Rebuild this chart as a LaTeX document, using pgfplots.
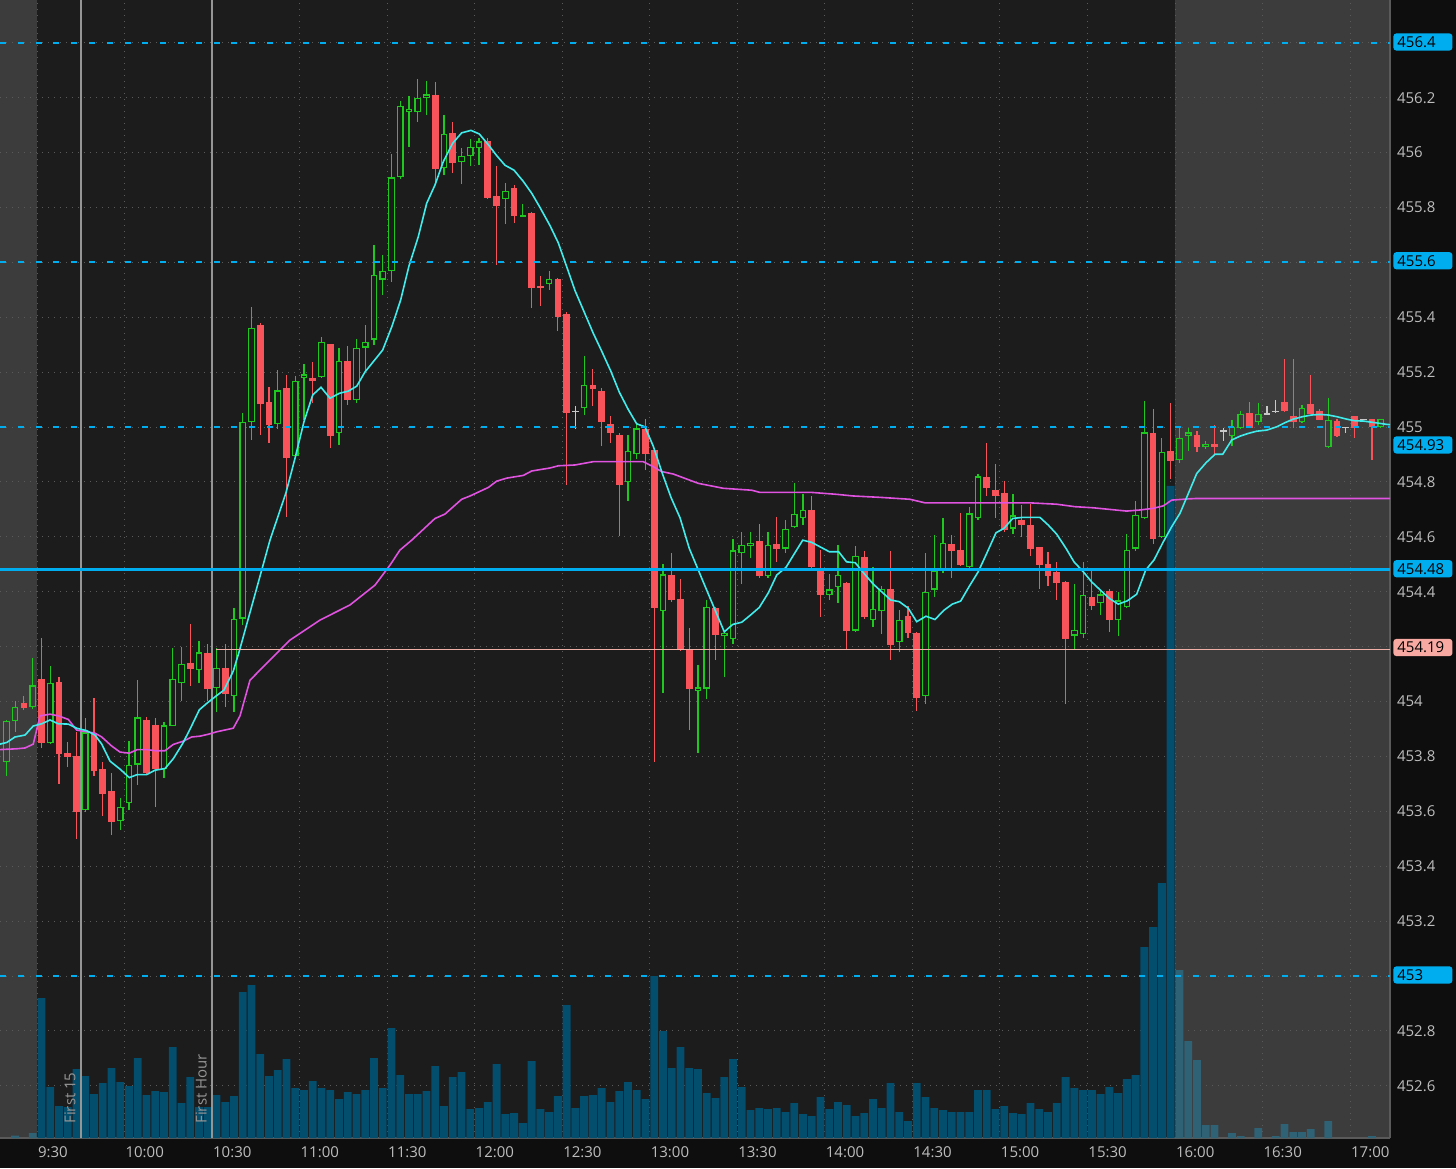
\documentclass[border=0pt]{standalone}
\usepackage{pgfplots}
\pgfplotsset{compat=1.18}
\usepackage{pgfplotstable}
\usepackage{fontspec}
\setmainfont{Open Sans}
\definecolor{pagebg}{HTML}{0E0E0E}
\definecolor{plotbg}{HTML}{1C1C1C}
\definecolor{sess}{HTML}{3C3C3C}
\definecolor{gridc}{HTML}{5A5A5A}
\definecolor{upc}{HTML}{1EC81E}
\definecolor{dnc}{HTML}{F8525A}
\definecolor{dojic}{HTML}{C8C8C8}
\definecolor{emac}{HTML}{40ECEC}
\definecolor{vwapc}{HTML}{E052E0}
\definecolor{lvl}{HTML}{00AEEF}
\definecolor{pinkl}{HTML}{F0B0A8}
\definecolor{pinkbox}{HTML}{F7A9A2}
\definecolor{volc}{HTML}{034D6D}
\definecolor{volg}{HTML}{2E6274}
\definecolor{markc}{HTML}{959595}
\definecolor{labc}{HTML}{BDBDBD}

\pgfplotstableread{
i o h l c
-2 453.995 454.020 453.969 453.978
0 454.082 454.231 453.831 453.849
2 454.071 454.089 453.701 453.809
3 453.812 453.852 453.761 453.798
4 453.801 453.889 453.499 453.597
6 453.883 454.013 453.729 453.747
7 453.754 453.780 453.583 453.663
8 453.674 453.740 453.514 453.561
12 453.933 453.947 453.737 453.740
13 453.916 453.940 453.619 453.754
17 454.140 454.284 454.056 454.118
19 454.178 454.209 454.002 454.049
21 454.124 454.209 453.980 454.029
25 455.372 455.380 454.971 455.084
26 455.092 455.147 454.942 455.007
28 455.142 455.189 454.673 454.888
31 455.182 455.238 455.089 455.169
33 455.302 455.305 454.923 454.968
35 455.240 455.296 455.080 455.098
45 456.212 456.258 455.894 455.939
47 456.072 456.110 455.924 455.963
51 456.042 456.053 455.832 455.836
52 455.842 455.952 455.592 455.805
54 455.871 455.884 455.745 455.769
56 455.781 455.785 455.434 455.509
57 455.514 455.550 455.442 455.506
59 455.541 455.545 455.352 455.400
60 455.414 455.418 454.788 455.051
63 455.154 455.210 455.078 455.138
64 455.131 455.142 454.933 455.020
65 455.012 455.040 454.942 454.980
66 454.974 454.978 454.603 454.791
69 454.993 455.031 454.843 454.902
70 454.917 454.920 453.779 454.341
72 454.461 454.541 454.362 454.370
73 454.376 454.449 454.187 454.190
74 454.190 454.270 453.899 454.048
77 454.342 454.345 454.154 454.242
82 454.587 454.649 454.451 454.457
84 454.573 454.671 454.509 454.558
88 454.700 454.749 454.486 454.489
89 454.485 454.552 454.309 454.388
92 454.433 454.436 454.194 454.258
94 454.528 454.549 454.303 454.309
97 454.412 454.549 454.151 454.208
99 454.311 454.350 454.230 454.251
100 454.252 454.255 453.969 454.015
104 454.573 454.609 454.451 454.548
105 454.552 454.689 454.494 454.497
108 454.821 454.944 454.750 454.779
109 454.773 454.868 454.671 454.749
110 454.762 454.803 454.619 454.625
112 454.664 454.716 454.600 454.643
113 454.643 454.722 454.531 454.558
114 454.562 454.565 454.410 454.497
115 454.503 454.546 454.421 454.458
116 454.473 454.509 454.370 454.434
117 454.436 454.440 453.991 454.228
120 454.382 454.489 454.333 454.348
122 454.403 454.410 454.254 454.299
127 454.981 455.068 454.574 454.592
129 454.913 455.090 454.813 454.877
132 454.971 454.989 454.910 454.928
134 454.941 455.010 454.898 454.928
138 455.052 455.090 454.996 454.999
142 455.092 455.250 455.055 455.058
143 455.041 455.250 454.999 455.019
145 455.083 455.189 455.048 455.050
146 455.059 455.068 455.026 455.028
148 455.022 455.029 454.965 454.967
150 455.040 455.042 454.961 454.999
152 455.029 455.031 454.880 454.999
}\redT

\pgfplotstableread{
i o h l c
1 453.849 454.129 453.845 454.069
5 453.605 453.942 453.600 453.889
9 453.565 453.648 453.532 453.616
10 453.630 453.856 453.605 453.770
11 453.770 454.078 453.696 453.942
14 453.754 453.925 453.721 453.914
15 453.911 454.195 453.911 454.082
16 454.069 454.199 454.002 454.140
18 454.115 454.220 454.069 454.180
20 454.049 454.195 453.962 454.122
22 454.020 454.341 453.962 454.302
23 454.304 455.052 454.279 455.019
24 455.019 455.438 454.953 455.361
27 455.011 455.208 454.993 455.135
29 454.894 455.189 454.890 455.169
30 455.179 455.230 455.026 455.193
32 455.183 455.329 455.180 455.310
34 454.979 455.288 454.934 455.244
36 455.098 455.324 455.091 455.290
37 455.290 455.372 455.201 455.311
38 455.319 455.663 455.299 455.556
39 455.538 455.629 455.481 455.569
40 455.569 455.997 455.529 455.910
41 455.910 456.189 455.905 456.170
42 456.149 456.209 456.021 456.161
43 456.149 456.268 456.112 456.200
44 456.200 456.261 456.137 456.212
46 455.945 456.139 455.921 456.070
48 455.965 456.018 455.885 455.989
49 455.989 456.049 455.952 456.021
50 456.018 456.053 455.955 456.042
53 455.832 455.889 455.742 455.860
55 455.765 455.812 455.765 455.772
58 455.521 455.568 455.502 455.541
62 455.070 455.261 455.044 455.154
67 454.800 454.972 454.733 454.914
68 454.902 455.012 454.882 454.997
71 454.330 454.504 454.034 454.464
75 454.039 454.133 453.811 454.052
76 454.048 454.370 454.012 454.345
78 454.239 454.254 454.090 454.251
79 454.230 454.595 454.212 454.552
80 454.540 454.619 454.431 454.571
81 454.568 454.619 454.522 454.581
83 454.458 454.619 454.451 454.571
85 454.558 454.661 454.540 454.631
86 454.635 454.795 454.632 454.682
87 454.670 454.758 454.643 454.700
90 454.388 454.467 454.370 454.410
91 454.418 454.570 454.360 454.461
93 454.258 454.570 454.255 454.531
95 454.299 454.489 454.270 454.340
96 454.330 454.421 454.246 454.412
98 454.218 454.333 454.181 454.299
101 454.020 454.540 453.991 454.400
102 454.409 454.609 454.382 454.479
103 454.479 454.670 454.469 454.580
106 454.489 454.710 454.486 454.686
107 454.670 454.829 454.661 454.821
111 454.631 454.758 454.610 454.679
118 454.240 454.428 454.194 454.260
119 454.248 454.509 454.234 454.391
121 454.360 454.406 454.315 454.391
123 454.299 454.400 454.239 454.370
124 454.345 454.610 454.342 454.552
125 454.558 454.730 454.549 454.682
126 454.670 455.098 454.667 454.981
128 454.600 454.959 454.597 454.910
}\greenD

\pgfplotstableread{
i o h l c
-4 453.780 453.935 453.729 453.929
-3 453.929 454.002 453.889 453.980
-1 453.980 454.160 453.975 454.060
130 454.880 454.999 454.870 454.959
131 454.968 454.999 454.916 454.981
133 454.928 454.950 454.920 454.941
136 454.968 455.026 454.931 454.999
137 454.999 455.059 454.996 455.050
139 455.019 455.090 455.007 455.050
144 455.019 455.080 455.017 455.070
147 454.928 455.108 454.926 455.029
153 454.999 455.031 454.997 455.029
}\greenG

\pgfplotstableread{
i o h l c
61 455.059 455.080 454.993 455.057
135 454.987 454.999 454.950 454.987
140 455.050 455.078 455.048 455.050
141 455.059 455.098 455.052 455.059
149 454.999 455.001 454.981 454.999
151 455.029 455.031 455.027 455.029
}\dojiT

\pgfplotstableread{
i v
0 140
1 51
2 32
3 31
4 69
5 62
6 44
7 55
8 70
9 56
10 52
11 80
12 43
13 47
14 46
15 91
16 35
17 61
18 31
19 31
20 43
21 36
22 42
23 146
24 153
25 84
26 62
27 68
28 79
29 50
30 48
31 57
32 50
33 48
34 39
35 46
36 44
37 48
38 80
39 50
40 110
41 63
42 44
43 44
44 47
45 72
46 32
47 61
48 66
49 29
50 30
51 36
52 74
53 24
54 25
55 15
56 77
57 29
58 26
59 42
60 133
61 30
62 42
63 43
64 50
65 36
66 47
67 56
68 48
69 39
70 162
71 107
72 70
73 91
74 70
75 69
76 45
77 40
78 61
79 79
80 51
81 28
82 30
83 29
84 30
85 26
86 35
87 24
88 22
89 41
90 29
91 36
92 33
93 22
94 25
95 39
96 30
97 55
98 26
99 17
100 55
101 41
102 30
103 28
104 26
105 26
106 26
107 48
108 48
109 29
110 32
111 25
112 24
113 35
114 29
115 26
116 35
117 61
118 50
119 48
120 48
121 44
122 51
123 45
124 59
125 63
126 191
127 211
128 255
129 652
}\volD

\pgfplotstableread{
i v
-3 2.5
-1 5
130 168
131 97
132 78
133 13
134 13
136 5
137 2
139 10
141 2
142 14
143 6
144 6
145 9
147 17
152 2
}\volG

\pgfplotstableread{
x y
-4.73 453.845
-3.96 453.851
-3.02 453.871
-1.87 453.878
-0.93 453.911
0.03 453.919
0.98 453.933
1.93 453.919
3.07 453.918
4.03 453.903
5.17 453.894
6.12 453.878
6.89 453.845
7.84 453.783
8.98 453.754
10.04 453.723
10.95 453.734
12.03 453.734
12.98 453.750
14.12 453.756
15.07 453.792
16.14 453.847
17.06 453.905
18.04 453.970
18.95 453.995
19.95 454.020
20.86 454.042
21.92 454.111
22.61 454.184
26.11 454.588
27.94 454.761
28.97 454.886
29.99 455.019
30.99 455.117
31.94 455.145
32.97 455.105
34.03 455.123
35.06 455.131
36.02 455.149
36.97 455.201
37.91 455.238
38.99 455.281
40.02 455.365
41.04 455.463
41.99 455.587
43.05 455.693
44.01 455.815
44.96 455.882
45.91 455.967
46.98 456.034
48.01 456.072
49.07 456.081
50.02 456.068
51.05 456.029
52.01 455.989
52.96 455.954
53.99 455.936
55.05 455.895
56.01 455.852
56.96 455.800
58.10 455.734
59.05 455.671
60.01 455.584
60.96 455.497
61.98 455.421
63.04 455.342
64.00 455.277
65.03 455.205
66.02 455.127
67.04 455.064
68.00 455.012
68.95 455.001
69.90 454.930
70.98 454.827
71.92 454.744
72.95 454.670
74.01 454.558
76.00 454.406
78.01 454.254
78.97 454.281
80.00 454.289
81.00 454.315
82.01 454.343
83.04 454.396
84.00 454.461
85.06 454.489
86.00 454.538
86.97 454.588
88.00 454.580
89.00 454.563
90.00 454.546
91.07 454.546
91.98 454.509
92.97 454.506
93.97 454.467
95.03 454.428
95.99 454.400
97.02 454.370
98.00 454.364
99.03 454.340
99.99 454.291
101.05 454.311
102.08 454.299
103.11 454.333
104.06 454.355
105.01 454.366
105.96 454.418
107.02 454.473
107.99 454.540
109.05 454.615
109.96 454.631
110.95 454.667
112.05 454.671
113.01 454.671
114.07 454.671
115.02 454.643
115.98 454.610
117.05 454.558
117.96 454.509
119.02 454.473
119.98 454.436
121.04 454.404
121.99 454.376
123.02 454.355
124.05 454.367
125.12 454.391
126.15 454.479
127.10 454.516
128.16 454.582
129.12 454.637
130.07 454.686
131.02 454.758
131.98 454.831
133.04 454.870
134.07 454.901
134.95 454.901
135.98 454.953
136.93 454.967
137.87 454.977
138.83 454.985
139.97 454.989
141.12 455.001
142.06 455.016
143.01 455.029
144.08 455.038
145.11 455.044
146.06 455.046
147.01 455.044
147.97 455.038
149.11 455.029
150.06 455.023
151.01 455.022
152.15 455.017
153.68 455.010
154.06 455.009
}\emaT

\pgfplotstableread{
x y
-4.73 453.825
-2.82 453.828
-1.87 453.831
-0.93 453.845
-0.16 453.948
0.98 453.954
1.93 453.948
3.07 453.935
4.03 453.896
5.17 453.890
6.12 453.885
6.89 453.871
8.03 453.838
8.98 453.816
10.04 453.812
10.95 453.825
12.03 453.825
12.98 453.821
14.12 453.821
15.07 453.844
16.14 453.855
17.17 453.871
18.12 453.874
19.07 453.881
20.03 453.890
21.92 453.903
22.69 453.948
23.83 454.078
25.54 454.133
28.40 454.224
31.83 454.297
35.25 454.352
38.10 454.424
39.82 454.497
40.96 454.552
42.30 454.588
44.96 454.667
46.10 454.683
48.01 454.737
48.96 454.749
51.05 454.780
52.01 454.803
53.15 454.814
55.05 454.824
56.01 454.840
58.10 454.851
59.05 454.859
60.96 454.862
63.04 454.874
68.75 454.874
69.70 454.859
70.86 454.838
72.18 454.829
75.04 454.795
77.90 454.777
81.14 454.770
82.09 454.762
88.00 454.762
90.85 454.755
92.75 454.749
95.80 454.744
99.22 454.737
100.94 454.724
112.93 454.724
115.98 454.719
118.07 454.710
120.16 454.706
123.97 454.694
125.50 454.698
127.02 454.704
128.16 454.713
129.12 454.734
130.83 454.738
131.98 454.740
154.06 454.740
}\vwapT

\pgfplotsset{
  base/.style={at={(0,15pt)}, anchor=south west, width=695pt, height=569pt,
    scale only axis, xmin=-4.73, xmax=154.06},
  wick/.style={draw=none, mark=none, forget plot, error bars/.cd, y dir=both, y explicit,
    error mark=none, error bar style={solid, line width=0.6pt, draw=#1}},
  body/.style={draw=none, mark=none, forget plot, error bars/.cd, y dir=both, y explicit,
    error mark=none, error bar style={solid, line width=3.35pt, draw=#1}},
  inner/.style={draw=none, mark=none, forget plot, error bars/.cd, y dir=both, y explicit,
    error mark=none, error bar style={solid, line width=2.15pt, draw=#1}},
}
\tikzset{lbox/.style={anchor=west, fill=#1, text=black, rounded corners=1.5pt,
    inner xsep=2pt, inner ysep=0pt, minimum height=8.6pt, text width=25.5pt, align=left,
    font=\fontsize{7.5}{9}\selectfont}}

\begin{document}
\begin{tikzpicture}
\path[use as bounding box] (0,0) rectangle (728pt,584pt);
\fill[pagebg] (0,0) rectangle (728pt,584pt);

% background axis: shading, grid, ticks
\begin{axis}[base, ymin=452.41, ymax=456.556,
  axis background/.style={fill=plotbg},
  axis on top,
  axis x line*=bottom, axis y line*=right,
  axis line style={draw=gridc, line width=0.6pt},
  xtick={-0.5,9.5,...,149.5},
  xticklabels={9:30,10:00,10:30,11:00,11:30,12:00,12:30,13:00,13:30,14:00,14:30,15:00,15:30,16:00,16:30,17:00},
  ytick={452.6,452.8,453,453.2,453.4,453.6,453.8,454,454.2,454.4,454.6,454.8,455,455.2,455.4,455.6,455.8,456,456.2,456.4},
  yticklabels={452.6,452.8,{},453.2,453.4,453.6,453.8,454,{},454.4,454.6,454.8,455,455.2,455.4,{},455.8,456,456.2,{}},
  grid=major,
  major grid style={draw=gridc, line width=0.5pt, dash pattern=on 0.5pt off 2.5pt},
  major tick length=0pt,
  ticklabel style={font=\fontsize{7.5}{9}\selectfont, text=labc},
  xticklabel style={anchor=north west, inner xsep=0.3pt, inner ysep=0pt, yshift=-4.3pt},
  yticklabel style={anchor=west},
]
\fill[sess] (axis cs:-4.73,452.41) rectangle (axis cs:-0.5,456.556);
\fill[sess] (axis cs:129.5,452.41) rectangle (axis cs:154.06,456.556);
\end{axis}

% volume axis
\begin{axis}[base, ymin=0, ymax=1138, hide axis]
\addplot[ybar, bar width=3.9pt, bar shift=0pt, fill=volc, draw=none] table[x=i,y=v]{\volD};
\addplot[ybar, bar width=3.9pt, bar shift=0pt, fill=volg, draw=none] table[x=i,y=v]{\volG};
\addplot[markc, line width=0.8pt] coordinates {(4.5,0) (4.5,1138)};
\addplot[markc, line width=0.8pt] coordinates {(19.5,0) (19.5,1138)};
\node[rotate=90, anchor=south west, inner sep=0pt, text=markc, font=\fontsize{7.5}{9}\selectfont] at (axis cs:3.93,14) {First 15};
\node[rotate=90, anchor=south west, inner sep=0pt, text=markc, font=\fontsize{7.5}{9}\selectfont] at (axis cs:18.93,14) {First Hour};
\end{axis}

% price axis
\begin{axis}[base, ymin=452.41, ymax=456.556, hide axis]
% red candles
\addplot[wick=dnc] table[x=i, y expr={(\thisrow{h}+\thisrow{l})/2}, y error expr={(\thisrow{h}-\thisrow{l})/2}]{\redT};
\addplot[body=dnc] table[x=i, y expr={(\thisrow{o}+\thisrow{c})/2}, y error expr={max(abs(\thisrow{o}-\thisrow{c})/2,0.0018)}]{\redT};
% green candles on dark
\addplot[wick=upc] table[x=i, y expr={(\thisrow{h}+\thisrow{l})/2}, y error expr={(\thisrow{h}-\thisrow{l})/2}]{\greenD};
\addplot[body=upc] table[x=i, y expr={(\thisrow{o}+\thisrow{c})/2}, y error expr={max(abs(\thisrow{o}-\thisrow{c})/2,0.0018)}]{\greenD};
\addplot[inner=plotbg] table[x=i, y expr={(\thisrow{o}+\thisrow{c})/2}, y error expr={max(abs(\thisrow{o}-\thisrow{c})/2-0.0044,0)}]{\greenD};
% green candles on grey
\addplot[wick=upc] table[x=i, y expr={(\thisrow{h}+\thisrow{l})/2}, y error expr={(\thisrow{h}-\thisrow{l})/2}]{\greenG};
\addplot[body=upc] table[x=i, y expr={(\thisrow{o}+\thisrow{c})/2}, y error expr={max(abs(\thisrow{o}-\thisrow{c})/2,0.0018)}]{\greenG};
\addplot[inner=sess] table[x=i, y expr={(\thisrow{o}+\thisrow{c})/2}, y error expr={max(abs(\thisrow{o}-\thisrow{c})/2-0.0044,0)}]{\greenG};
% doji
\addplot[wick=dojic] table[x=i, y expr={(\thisrow{h}+\thisrow{l})/2}, y error expr={(\thisrow{h}-\thisrow{l})/2}]{\dojiT};
\addplot[body=dojic] table[x=i, y expr={(\thisrow{o}+\thisrow{c})/2}, y error expr={max(abs(\thisrow{o}-\thisrow{c})/2,0.0018)}]{\dojiT};
% studies
\addplot[vwapc, line width=0.8pt] table[x=x,y=y]{\vwapT};
\addplot[emac, line width=0.8pt] table[x=x,y=y]{\emaT};
% levels
\addplot[lvl, line width=1.1pt, dash pattern=on 3pt off 5.9pt] coordinates {(-4.73,456.4) (154.06,456.4)};
\addplot[lvl, line width=1.1pt, dash pattern=on 3pt off 5.9pt] coordinates {(-4.73,455.6) (154.06,455.6)};
\addplot[lvl, line width=1.1pt, dash pattern=on 3pt off 5.9pt] coordinates {(-4.73,455) (154.06,455)};
\addplot[lvl, line width=1.1pt, dash pattern=on 3pt off 5.9pt] coordinates {(-4.73,453) (154.06,453)};
\addplot[lvl, line width=1.6pt] coordinates {(-4.73,454.48) (154.06,454.48)};
\addplot[pinkl, line width=0.8pt] coordinates {(20,454.19) (154.06,454.19)};
\coordinate (b1) at (axis cs:154.06,456.403);
\coordinate (b2) at (axis cs:154.06,455.606);
\coordinate (b3) at (axis cs:154.06,454.935);
\coordinate (b4) at (axis cs:154.06,454.484);
\coordinate (b5) at (axis cs:154.06,454.197);
\coordinate (b6) at (axis cs:154.06,453.004);
\end{axis}

\node[lbox=lvl] at ([xshift=1.5pt]b1) {456.4};
\node[lbox=lvl] at ([xshift=1.5pt]b2) {455.6};
\node[lbox=lvl] at ([xshift=1.5pt]b3) {454.93};
\node[lbox=lvl] at ([xshift=1.5pt]b4) {454.48};
\node[lbox=pinkbox] at ([xshift=1.5pt]b5) {454.19};
\node[lbox=lvl] at ([xshift=1.5pt]b6) {453};
\end{tikzpicture}
\end{document}
